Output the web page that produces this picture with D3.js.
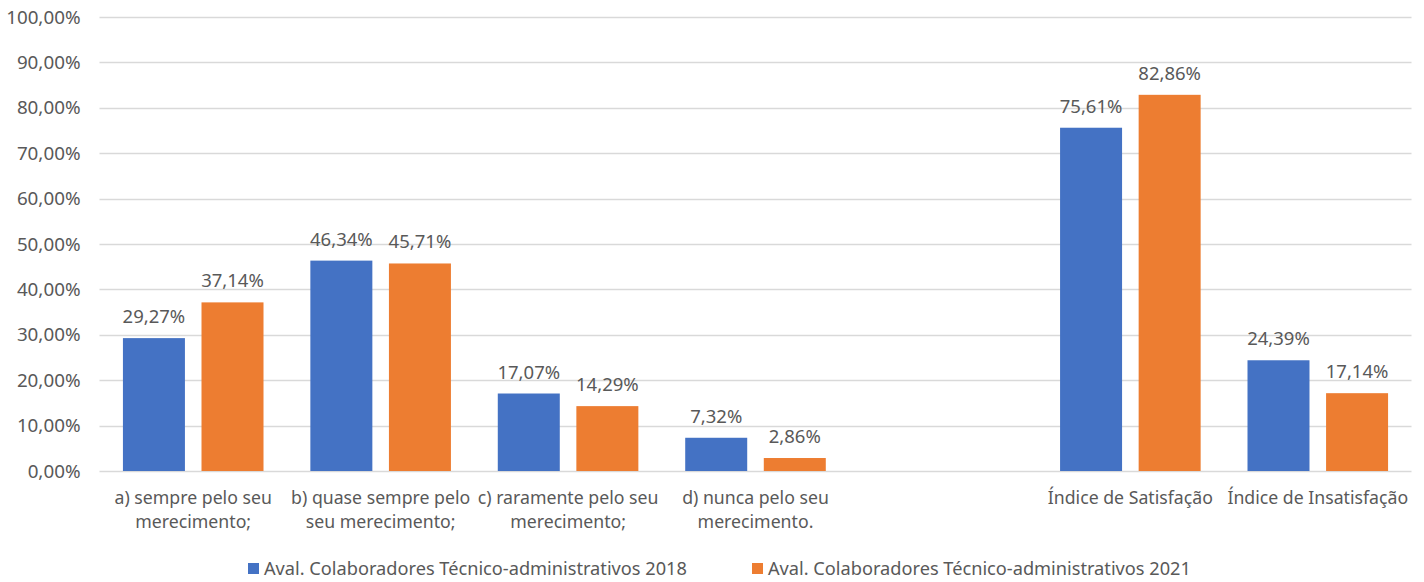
<!DOCTYPE html>
<html><head><meta charset="utf-8">
<script src="https://cdn.jsdelivr.net/npm/d3@7"></script>
<style>body{margin:0;background:#fff}svg{display:block}text{font-family:"Noto Sans",sans-serif;fill:#595959}</style>
</head><body><svg id="c" width="1424" height="582"></svg>
<script>
const categories = ["a) sempre pelo seu\nmerecimento;", "b) quase sempre pelo\nseu merecimento;", "c) raramente pelo seu\nmerecimento;", "d) nunca pelo seu\nmerecimento.", "", "Índice de Satisfação", "Índice de Insatisfação"];
const series2018 = [29.27, 46.34, 17.07, 7.32, null, 75.61, 24.39];
const series2021 = [37.14, 45.71, 14.29, 2.86, null, 82.86, 17.14];
const seriesNames = ["Aval. Colaboradores Técnico-administrativos 2018", "Aval. Colaboradores Técnico-administrativos 2021"];
const yTicks = [0, 10, 20, 30, 40, 50, 60, 70, 80, 90, 100];
const colors = ["#4472C4", "#ED7D31"];

(function () {
const svg = d3.select("#c");
const fmt = v => v.toFixed(2).replace(".", ",") + "%";
const pL = 99.5, pR = 1411.5, pT = 17, pB = 471;
const y = d3.scaleLinear().domain([0, 100]).range([pB, pT]);
const x = d3.scaleBand().domain(d3.range(categories.length)).range([pL, pR]).paddingInner(0).paddingOuter(0);
const W = x.bandwidth();
const sub = d3.scaleBand().domain([0, 1]).range([W * 0.125, W * 0.875]).paddingInner(0.211);

// gridlines
svg.append("g").selectAll("line").data(yTicks).join("line")
  .attr("x1", pL).attr("x2", pR)
  .attr("y1", d => Math.round(y(d)) + 0.5).attr("y2", d => Math.round(y(d)) + 0.5)
  .attr("stroke", "#D9D9D9").attr("stroke-width", 1.5);

// y axis labels
const yAxis = d3.axisLeft(y).tickValues(yTicks).tickFormat(fmt).tickSize(0).tickPadding(19);
const ga = svg.append("g").attr("transform", `translate(${pL},0)`).call(yAxis);
ga.select(".domain").remove();
ga.selectAll("text").attr("font-size", 18.8).attr("font-family", "Noto Sans").attr("fill", "#595959");

// bars
const all = [series2018, series2021];
all.forEach((s, si) => {
  const g = svg.append("g");
  const pts = s.map((v, i) => ({v, i})).filter(d => d.v != null);
  g.selectAll("rect").data(pts).join("rect")
    .attr("x", d => x(d.i) + sub(si)).attr("width", sub.bandwidth())
    .attr("y", d => y(d.v)).attr("height", d => y(0) - y(d.v))
    .attr("fill", colors[si]);
  g.selectAll("text").data(pts).join("text")
    .attr("x", d => x(d.i) + sub(si) + sub.bandwidth() / 2)
    .attr("y", d => y(d.v) - 15)
    .attr("text-anchor", "middle").attr("font-size", 18.5)
    .text(d => fmt(d.v));
});

// category labels
const gx = svg.append("g");
categories.forEach((c, i) => {
  const lines = c.split("\n");
  const t = gx.append("text").attr("text-anchor", "middle").attr("font-size", 17.7)
    .attr("x", x(i) + W / 2).attr("y", 504);
  lines.forEach((ln, k) => t.append("tspan").attr("x", x(i) + W / 2).attr("dy", k ? 24 : 0).text(ln));
});

// legend
const legX = [248, 752];
seriesNames.forEach((n, i) => {
  svg.append("rect").attr("x", legX[i]).attr("y", 563).attr("width", 11).attr("height", 11).attr("fill", colors[i]);
  svg.append("text").attr("x", legX[i] + 16).attr("y", 575).attr("font-size", 18.2).text(n);
});
})();
</script></body></html>
